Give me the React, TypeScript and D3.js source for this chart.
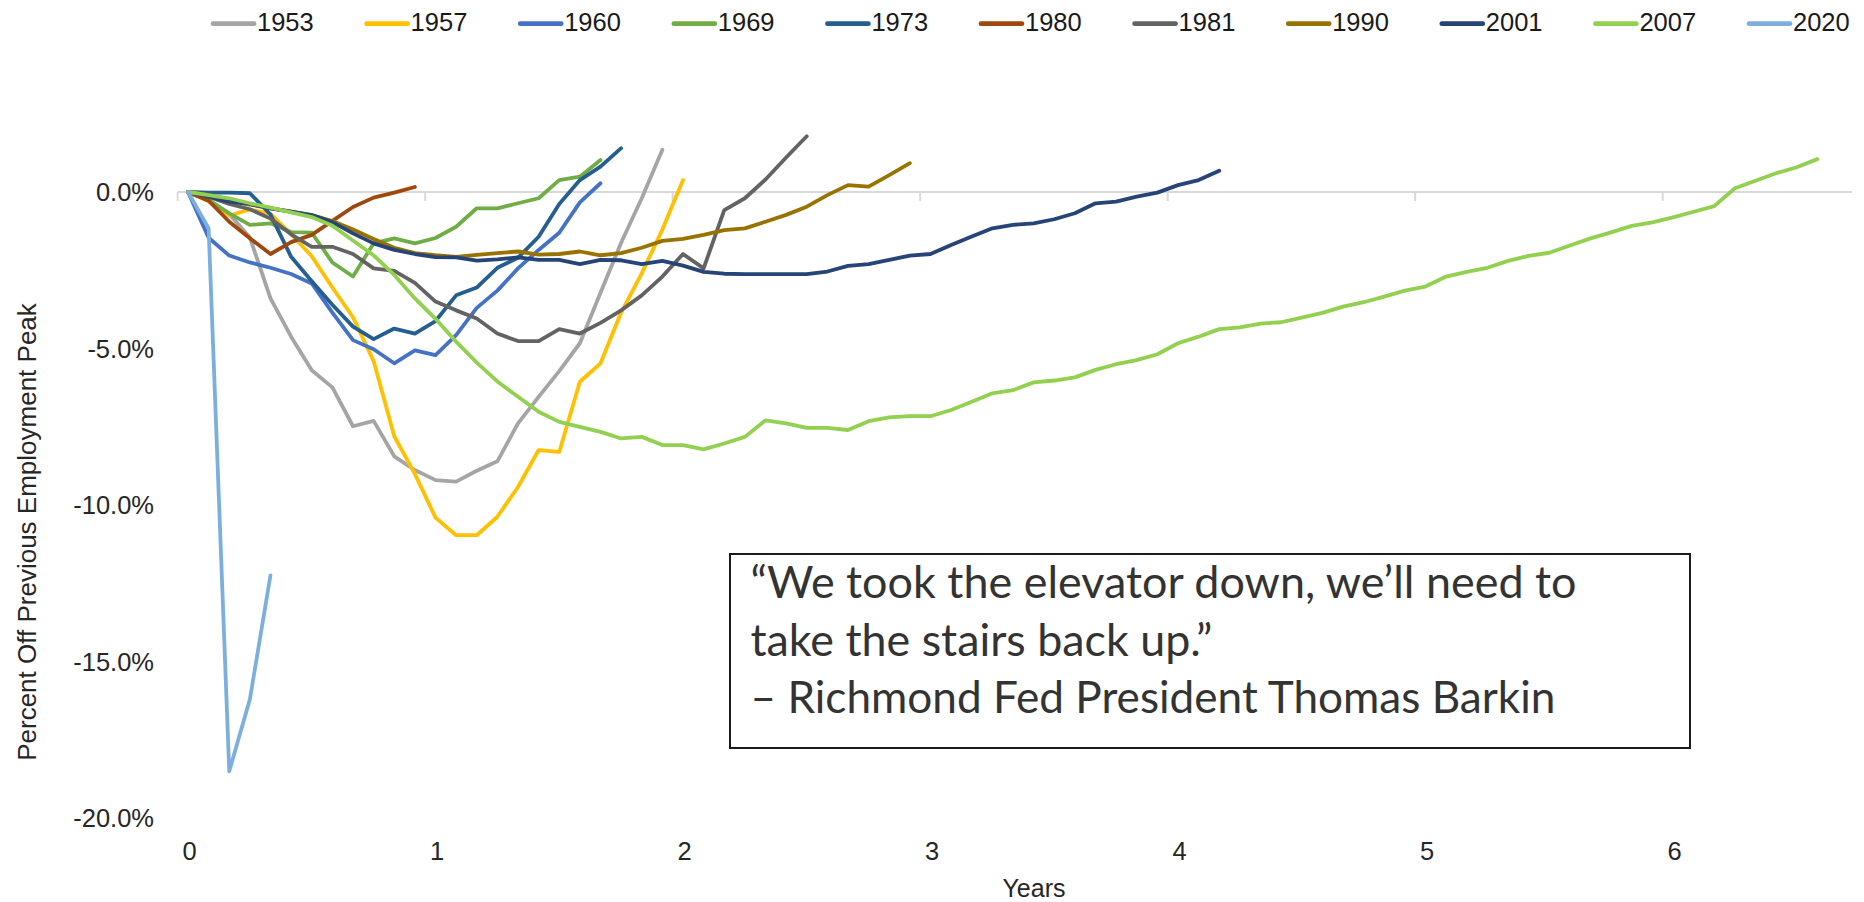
import React from "react";
import * as d3 from "d3";

// Percent off previous employment peak, monthly from each recession's peak.
const recessionYears = ["1953", "1957", "1960", "1969", "1973", "1980", "1981", "1990", "2001", "2007", "2020"];
const seriesColors = ["#a5a5a5", "#ffc000", "#4472c4", "#70ad47", "#255e91", "#9e480e", "#636363", "#997300", "#264478", "#92d050", "#7cafdd"];

const s1953 = [0, -0.25, -0.7, -1.45, -3.4, -4.62, -5.69, -6.24, -7.48, -7.31, -8.44, -8.88, -9.2, -9.25, -8.9, -8.6, -7.39, -6.54, -5.72, -4.83, -3.22, -1.62, -0.2, 1.35];
const s1957 = [0, -0.3, -0.75, -0.56, -0.7, -1.35, -2.05, -3.05, -4.0, -5.4, -7.8, -9.0, -10.4, -10.96, -10.96, -10.37, -9.42, -8.24, -8.3, -6.06, -5.47, -3.85, -2.6, -1.2, 0.38];
const s1960 = [0, -1.46, -2.03, -2.25, -2.42, -2.62, -2.92, -3.85, -4.73, -5.02, -5.47, -5.06, -5.21, -4.57, -3.7, -3.15, -2.44, -1.85, -1.3, -0.33, 0.28];
const s1969 = [0, -0.26, -0.68, -1.05, -1.0, -1.28, -1.3, -2.25, -2.7, -1.64, -1.48, -1.64, -1.47, -1.11, -0.52, -0.52, -0.36, -0.2, 0.38, 0.49, 1.02];
const s1973 = [0, -0.02, -0.02, -0.04, -0.72, -2.07, -2.85, -3.6, -4.3, -4.7, -4.36, -4.52, -4.12, -3.3, -3.05, -2.42, -2.1, -1.43, -0.38, 0.38, 0.81, 1.4];
const s1980 = [0, -0.28, -0.95, -1.48, -1.98, -1.6, -1.37, -0.92, -0.48, -0.18, -0.02, 0.16];
const s1981 = [0, -0.15, -0.38, -0.55, -0.85, -1.35, -1.75, -1.75, -1.98, -2.44, -2.52, -2.9, -3.5, -3.78, -4.04, -4.52, -4.76, -4.76, -4.38, -4.52, -4.18, -3.78, -3.3, -2.7, -1.98, -2.44, -0.58, -0.2, 0.4, 1.1, 1.78];
const s1990 = [0, -0.1, -0.28, -0.4, -0.52, -0.63, -0.74, -0.93, -1.2, -1.5, -1.78, -1.95, -2.02, -2.07, -2.01, -1.95, -1.9, -2.0, -1.98, -1.9, -2.02, -1.95, -1.78, -1.56, -1.5, -1.37, -1.22, -1.16, -0.95, -0.73, -0.47, -0.1, 0.22, 0.17, 0.54, 0.92];
const s2001 = [0, -0.15, -0.31, -0.38, -0.52, -0.63, -0.74, -0.96, -1.32, -1.64, -1.85, -1.98, -2.08, -2.09, -2.19, -2.15, -2.09, -2.17, -2.17, -2.3, -2.17, -2.18, -2.3, -2.2, -2.35, -2.55, -2.61, -2.62, -2.62, -2.62, -2.62, -2.54, -2.36, -2.3, -2.17, -2.03, -1.98, -1.69, -1.42, -1.16, -1.05, -1.0, -0.87, -0.68, -0.36, -0.31, -0.15, -0.02, 0.22, 0.38, 0.68];
const s2007 = [0, -0.1, -0.2, -0.36, -0.5, -0.65, -0.8, -1.08, -1.55, -2.02, -2.65, -3.4, -4.05, -4.78, -5.45, -6.05, -6.54, -7.02, -7.34, -7.5, -7.66, -7.87, -7.82, -8.08, -8.08, -8.22, -8.03, -7.82, -7.29, -7.39, -7.53, -7.53, -7.6, -7.32, -7.2, -7.16, -7.16, -6.96, -6.7, -6.43, -6.33, -6.08, -6.02, -5.92, -5.68, -5.5, -5.37, -5.18, -4.83, -4.62, -4.38, -4.32, -4.2, -4.16, -4.01, -3.86, -3.66, -3.52, -3.34, -3.15, -3.02, -2.7, -2.55, -2.42, -2.2, -2.04, -1.94, -1.71, -1.48, -1.29, -1.08, -0.97, -0.81, -0.63, -0.45, 0.12, 0.36, 0.6, 0.79, 1.05];
const s2020 = [0, -1.16, -18.5, -16.2, -12.24];

const seriesValues = [s1953, s1957, s1960, s1969, s1973, s1980, s1981, s1990, s2001, s2007, s2020];

const yTicks = [0, -5, -10, -15, -20];
const xTicks = [0, 1, 2, 3, 4, 5, 6];

const quoteLines = [
  "\u201CWe took the elevator down, we\u2019ll need to",
  "take the stairs back up.\u201D",
  "\u2013 Richmond Fed President Thomas Barkin",
];
const quoteWidths = [826, 462, 805];

const W = 1864;
const H = 902;
const axisFont = "'Liberation Sans', Arial, sans-serif";

export default function App() {
  const x = d3.scaleLinear().domain([0, 7]).range([188, 188 + 7 * 247.5]);
  const y = d3.scaleLinear().domain([-20, 0]).range([818.3, 192]);
  const line = d3
    .line<number>()
    .x((_, i) => x(i / 12))
    .y((d) => y(d));

  const gridLeft = x(-1 / 24);

  return (
    <svg
      width={W}
      height={H}
      viewBox={`0 0 ${W} ${H}`}
      style={{ position: "absolute", left: 0, top: 0, background: "#fff" }}
    >
      <rect x={0} y={0} width={W} height={H} fill="#fff" />

      {/* legend */}
      <g>
        {recessionYears.map((name, i) => {
          const lx = 211 + 153.6 * i;
          return (
            <g key={name}>
              <line
                x1={lx + 2}
                x2={lx + 43}
                y1={23.7}
                y2={23.7}
                stroke={seriesColors[i]}
                strokeWidth={4.7}
                strokeLinecap="round"
              />
              <text x={lx + 46} y={30.7} fontFamily={axisFont} fontSize={25.5} fill="#1a1a1a">
                {name}
              </text>
            </g>
          );
        })}
      </g>

      {/* zero gridline and category ticks */}
      <line x1={gridLeft} x2={1852} y1={y(0)} y2={y(0)} stroke="#d9d9d9" strokeWidth={2} />
      {xTicks.map((t) => (
        <line
          key={`tk${t}`}
          x1={x(t - 1 / 24)}
          x2={x(t - 1 / 24)}
          y1={y(0)}
          y2={y(0) + 9}
          stroke="#d9d9d9"
          strokeWidth={2}
        />
      ))}

      {/* y axis labels */}
      {yTicks.map((t) => (
        <text
          key={`y${t}`}
          x={154}
          y={y(t)}
          dy="0.35em"
          textAnchor="end"
          fontFamily={axisFont}
          fontSize={25.5}
          fill="#262626"
        >
          {`${t.toFixed(1)}%`}
        </text>
      ))}

      {/* x axis labels */}
      {xTicks.map((t) => (
        <text
          key={`x${t}`}
          x={x(t) + 1.5}
          y={860}
          textAnchor="middle"
          fontFamily={axisFont}
          fontSize={25.5}
          fill="#262626"
        >
          {t}
        </text>
      ))}

      <text x={1034} y={897} textAnchor="middle" fontFamily={axisFont} fontSize={25} fill="#262626">
        Years
      </text>
      <text
        transform={`translate(36, 532) rotate(-90)`}
        textAnchor="middle"
        fontFamily={axisFont}
        fontSize={26}
        fill="#262626"
      >
        Percent Off Previous Employment Peak
      </text>

      {/* series */}
      <g fill="none" strokeLinejoin="round" strokeLinecap="round">
        {seriesValues.map((vals, i) => (
          <path key={recessionYears[i]} d={line(vals) || ""} stroke={seriesColors[i]} strokeWidth={3.8} />
        ))}
      </g>

      {/* quote box */}
      <rect x={730} y={554} width={960} height={194} fill="#fff" stroke="#1a1a1a" strokeWidth={2} />
      {quoteLines.map((q, i) => (
        <text
          key={`q${i}`}
          x={750.5}
          y={598 + 57.5 * i}
          fontFamily="Lato, 'Open Sans', sans-serif"
          fontSize={44}
          fill="#333333"
          textLength={quoteWidths[i]}
          lengthAdjust="spacingAndGlyphs"
        >
          {q}
        </text>
      ))}
    </svg>
  );
}
